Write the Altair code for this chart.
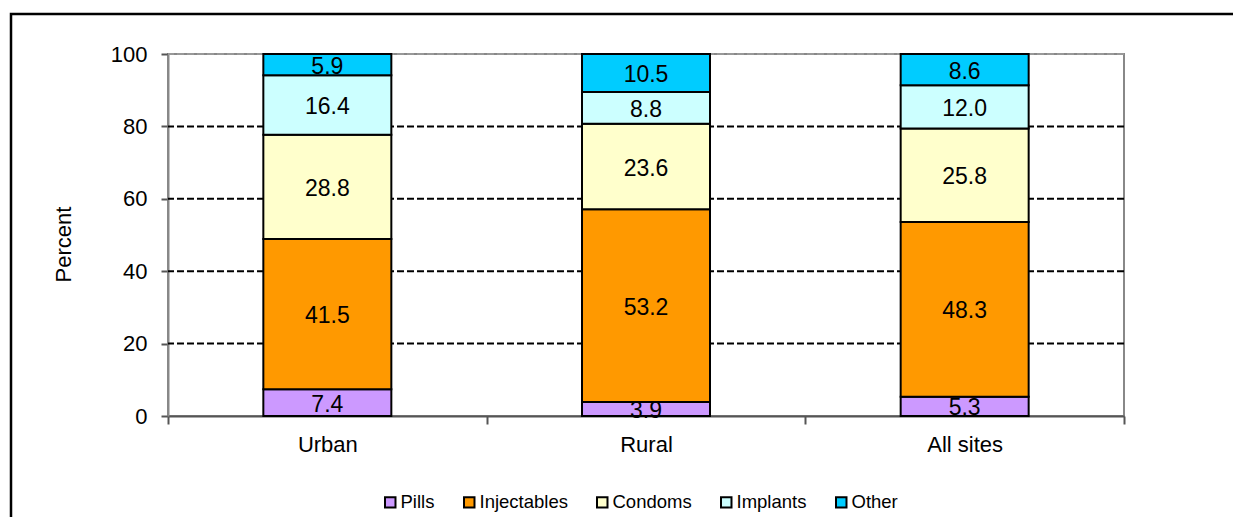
import altair as alt
import pandas as pd

# Contraceptive method mix by site
sites = ["Urban", "Rural", "All sites"]
methods = ["Pills", "Injectables", "Condoms", "Implants", "Other"]
colors = ["#CC99FF", "#FF9900", "#FFFFCC", "#CCFFFF", "#00CCFF"]

pills = [7.4, 3.9, 5.3]
injectables = [41.5, 53.2, 48.3]
condoms = [28.8, 23.6, 25.8]
implants = [16.4, 8.8, 12.0]
other = [5.9, 10.5, 8.6]

grid_values = [20, 40, 60, 80]
top_line = [100]
y_ticks = [0, 20, 40, 60, 80, 100]

series = [pills, injectables, condoms, implants, other]
rows = []
for m_idx, (method, vals) in enumerate(zip(methods, series)):
    for site, v in zip(sites, vals):
        rows.append({"site": site, "method": method, "order": m_idx, "value": v})
df = pd.DataFrame(rows)

# stacked extents for segment midpoints (label placement)
df["y1"] = df.groupby("site")["value"].cumsum()
df["y0"] = df["y1"] - df["value"]
df["mid"] = (df["y0"] + df["y1"]) / 2

FONT = "Liberation Sans"

y_scale = alt.Scale(domain=[0, 100], nice=False)
x_scale = alt.Scale(domain=sites, paddingInner=0, paddingOuter=0)

x_axis = alt.Axis(
    title=None,
    labelAngle=0,
    labelPadding=10,
    labelFontSize=22,
    domainColor="#555555",
    tickColor="#555555",
    tickSize=8,
    tickBand="extent",
    grid=False,
)
y_axis = alt.Axis(
    values=y_ticks,
    title="Percent",
    titlePadding=35,
    titleFontSize=22,
    titleY=190,
    labelPadding=14,
    labelFontSize=22,
    domainColor="#888888",
    tickColor="#555555",
    tickSize=7,
    grid=False,
)

grid = alt.Chart(pd.DataFrame({"g": grid_values})).mark_rule(
    strokeDash=[7, 3], strokeWidth=2, color="black"
).encode(y=alt.Y("g:Q", scale=y_scale, axis=y_axis, title="Percent"))

top_rule = alt.Chart(pd.DataFrame({"g": top_line})).mark_rule(
    strokeDash=[7, 3], strokeWidth=2, color="#999999"
).encode(y=alt.Y("g:Q", scale=y_scale, axis=y_axis, title="Percent"))

bars = alt.Chart(df).mark_bar(width=128, stroke="black", strokeWidth=2).encode(
    x=alt.X("site:N", sort=sites, scale=x_scale, axis=x_axis),
    y=alt.Y("y0:Q", scale=y_scale, axis=y_axis, title="Percent"),
    y2="y1:Q",
    color=alt.Color(
        "method:N",
        sort=methods,
        scale=alt.Scale(domain=methods, range=colors),
        legend=alt.Legend(
            title=None,
            orient="none",
            direction="horizontal",
            legendX=213,
            legendY=439,
            symbolType="square",
            symbolSize=110,
            symbolStrokeColor="black",
            symbolStrokeWidth=2,
            symbolOpacity=1,
            labelFont=FONT,
            labelFontSize=18.5,
            labelColor="black",
            labelOffset=1,
            columnPadding=25,
        ),
    ),
    order=alt.Order("order:Q"),
)

labels = alt.Chart(df).mark_text(
    font=FONT, fontSize=23, color="black", baseline="middle", dy=2
).encode(
    x=alt.X("site:N", sort=sites, scale=x_scale, axis=x_axis),
    y=alt.Y("mid:Q", scale=y_scale, axis=y_axis, title="Percent"),
    text=alt.Text("value:Q", format=".1f"),
)

# thin frame around the whole figure
frame = alt.Chart(pd.DataFrame({"a": [0]})).mark_rect(
    fill=None, stroke="black", strokeWidth=2.5
).encode(
    x=alt.value(-157),
    x2=alt.value(1080),
    y=alt.value(-40),
    y2=alt.value(480),
)

chart = (
    alt.layer(grid, top_rule, bars, labels, frame)
    .properties(
        width=956,
        height=362,
        padding={"left": 168, "top": 54, "right": 109, "bottom": 101},
        autosize=alt.AutoSizeParams(type="none"),
        background="white",
    )
    .configure_view(stroke="#888888", strokeWidth=2)
    .configure_axis(
        labelFont=FONT,
        labelColor="black",
        titleFont=FONT,
        titleFontWeight="normal",
        titleColor="black",
        domainWidth=2,
        tickWidth=2,
    )
)

chart.save("out.html", embed_options={"renderer": "svg", "actions": False})
